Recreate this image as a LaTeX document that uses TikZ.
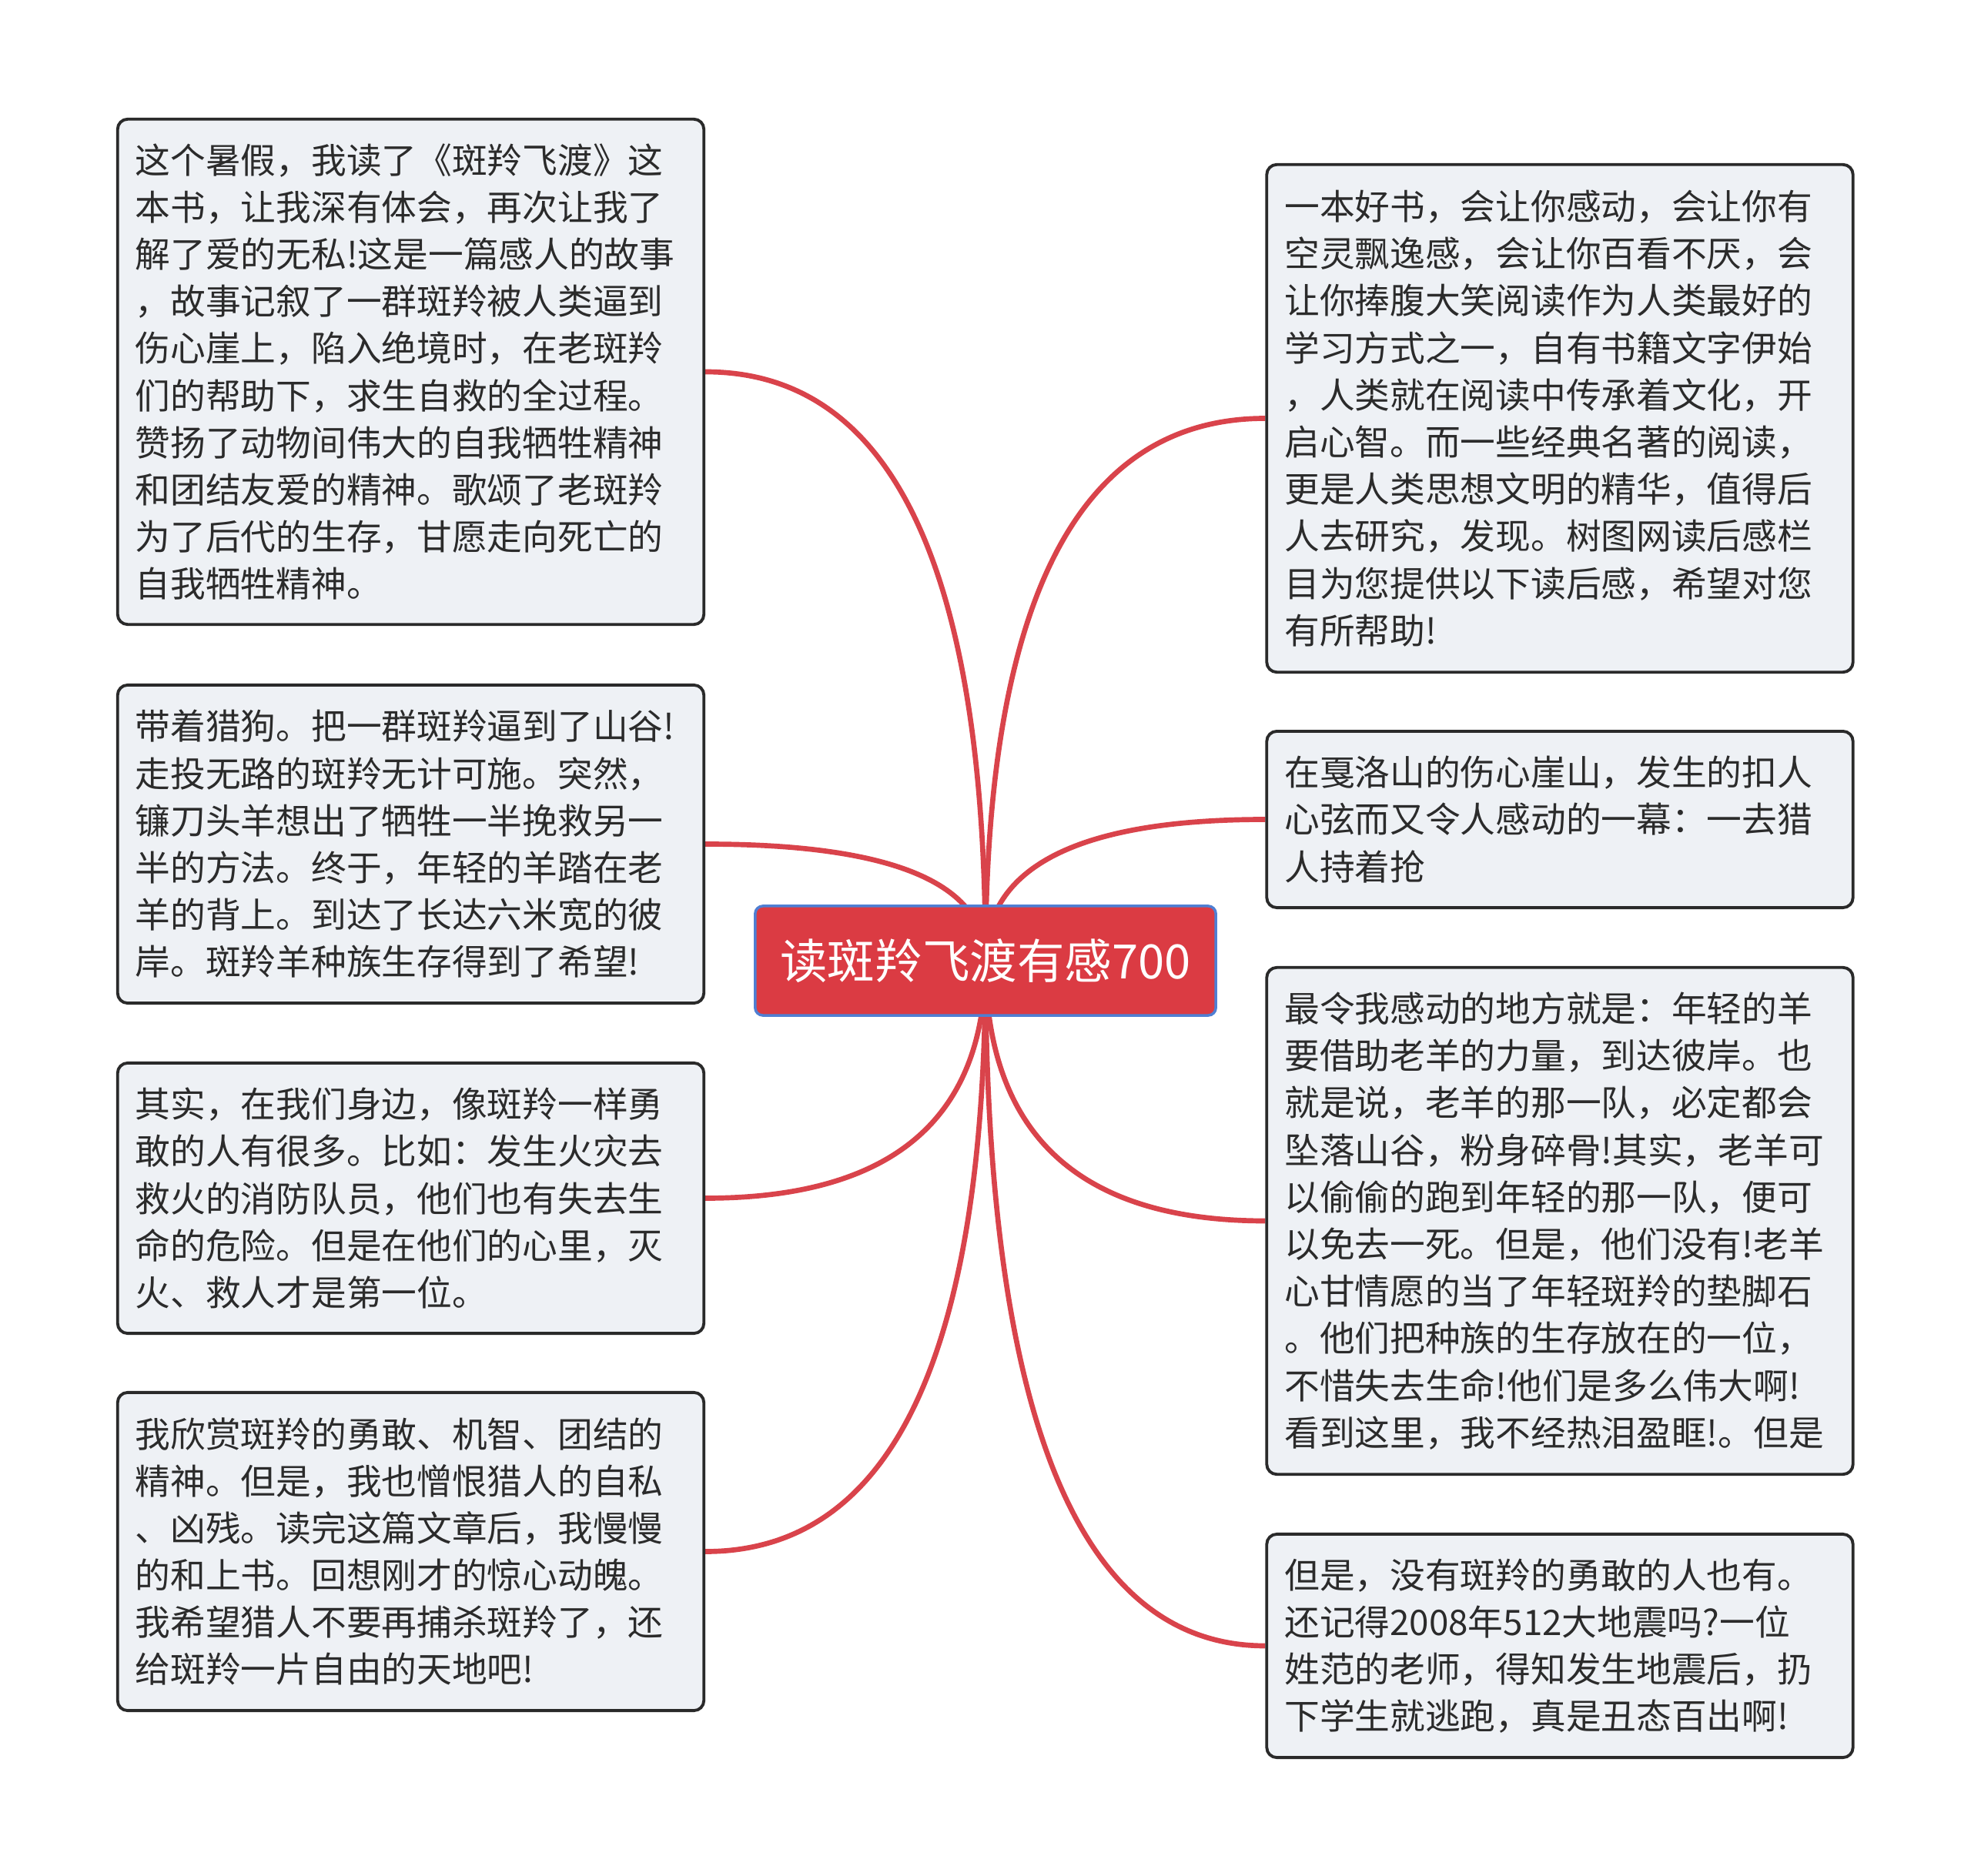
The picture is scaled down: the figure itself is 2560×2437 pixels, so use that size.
\documentclass[tikz,border=0pt]{standalone}
\usepackage{fontspec}
\setmainfont{Noto Sans CJK SC}
\usetikzlibrary{calc,backgrounds}
\definecolor{boxfill}{HTML}{EEF1F5}
\definecolor{boxline}{HTML}{2A2A2A}
\definecolor{txt}{HTML}{2B2B2B}
\definecolor{linkred}{HTML}{D9434B}
\definecolor{rootfill}{HTML}{DB3B43}
\definecolor{rootline}{HTML}{4F7FD3}
\begin{document}
\begin{tikzpicture}[x=0.01cm,y=-0.01cm,
  leaf/.style={draw=boxline, line width=1.1pt, fill=boxfill, rounded corners=0.13cm,
    minimum width=7.61cm, text width=7.15cm, align=left, inner sep=0pt,
    font=\fontsize{13pt}{17.4pt}\selectfont, text=txt},
  rootbox/.style={draw=rootline, line width=1pt, fill=rootfill, rounded corners=0.1cm,
    minimum width=5.98cm, minimum height=1.42cm, inner sep=0pt,
    font=\fontsize{17.5pt}{21pt}\selectfont, text=white},
  link/.style={draw=linkred, line width=1.9pt}]
\useasboundingbox (0,0) rectangle (2560,2437);

\node[rootbox] (C) at (1280,1248) {读斑羚飞渡有感700};

\node[leaf, minimum height=6.56cm] (L1) at (533.5,483) {这个暑假，我读了《斑羚飞渡》这\\本书，让我深有体会，再次让我了\\解了爱的无私!这是一篇感人的故事\\，故事记叙了一群斑羚被人类逼到\\伤心崖上，陷入绝境时，在老斑羚\\们的帮助下，求生自救的全过程。\\赞扬了动物间伟大的自我牺牲精神\\和团结友爱的精神。歌颂了老斑羚\\为了后代的生存，甘愿走向死亡的\\自我牺牲精神。};

\node[leaf, minimum height=4.13cm] (L2) at (533.5,1096.5) {带着猎狗。把一群斑羚逼到了山谷!\\走投无路的斑羚无计可施。突然，\\镰刀头羊想出了牺牲一半挽救另一\\半的方法。终于，年轻的羊踏在老\\羊的背上。到达了长达六米宽的彼\\岸。斑羚羊种族生存得到了希望!};

\node[leaf, minimum height=3.51cm] (L3) at (533.5,1556.5) {其实，在我们身边，像斑羚一样勇\\敢的人有很多。比如：发生火灾去\\救火的消防队员，他们也有失去生\\命的危险。但是在他们的心里，灭\\火、救人才是第一位。};

\node[leaf, minimum height=4.13cm] (L4) at (533.5,2015.5) {我欣赏斑羚的勇敢、机智、团结的\\精神。但是，我也憎恨猎人的自私\\、凶残。读完这篇文章后，我慢慢\\的和上书。回想刚才的惊心动魄。\\我希望猎人不要再捕杀斑羚了，还\\给斑羚一片自由的天地吧!};

\node[leaf, minimum height=6.59cm] (R1) at (2026,543.5) {一本好书，会让你感动，会让你有\\空灵飘逸感，会让你百看不厌，会\\让你捧腹大笑阅读作为人类最好的\\学习方式之一，自有书籍文字伊始\\，人类就在阅读中传承着文化，开\\启心智。而一些经典名著的阅读，\\更是人类思想文明的精华，值得后\\人去研究，发现。树图网读后感栏\\目为您提供以下读后感，希望对您\\有所帮助!};

\node[leaf, minimum height=2.29cm] (R2) at (2026,1064.5) {在戛洛山的伤心崖山，发生的扣人\\心弦而又令人感动的一幕：一去猎\\人持着抢};

\node[leaf, minimum height=6.58cm] (R3) at (2026,1586) {最令我感动的地方就是：年轻的羊\\要借助老羊的力量，到达彼岸。也\\就是说，老羊的那一队，必定都会\\坠落山谷，粉身碎骨!其实，老羊可\\以偷偷的跑到年轻的那一队，便可\\以免去一死。但是，他们没有!老羊\\心甘情愿的当了年轻斑羚的垫脚石\\。他们把种族的生存放在的一位，\\不惜失去生命!他们是多么伟大啊!\\看到这里，我不经热泪盈眶!。但是};

\node[leaf, minimum height=2.90cm] (R4) at (2026,2138) {但是，没有斑羚的勇敢的人也有。\\还记得2008年512大地震吗?一位\\姓范的老师，得知发生地震后，扔\\下学生就逃跑，真是丑态百出啊!};

\begin{pgfonlayer}{background}
\foreach \n/\a in {L1/east,L2/east,L3/east,L4/east,R1/west,R2/west,R3/west,R4/west}{
  \coordinate (k) at (C.center |- \n.\a);
  \draw[link] (C.center) .. controls ($(C.center)!0.6667!(k)$) and ($(\n.\a)!0.6667!(k)$) .. (\n.\a);
}
\end{pgfonlayer}
\end{tikzpicture}
\end{document}
